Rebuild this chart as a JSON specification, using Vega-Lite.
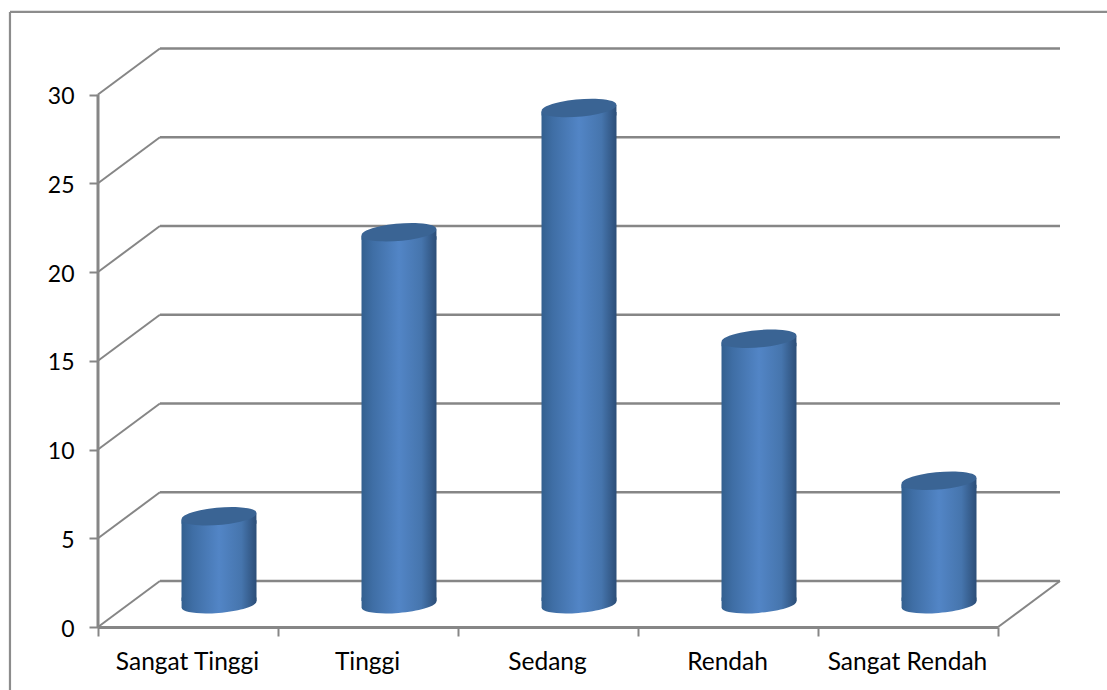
{
"$schema":"https://vega.github.io/schema/vega-lite/v6.json",
"width":962,"height":579,
"autosize":{"type":"none"},
"padding":{"left":98,"top":48,"right":47,"bottom":63},
"background":"white",
"config":{"view":{"stroke":null}},
"datasets":{
"bars":[{"kategori":"Sangat Tinggi","nilai":5},{"kategori":"Tinggi","nilai":21},{"kategori":"Sedang","nilai":28},{"kategori":"Rendah","nilai":15},{"kategori":"Sangat Rendah","nilai":7}],
"grid":[{"v":0},{"v":5},{"v":10},{"v":15},{"v":20},{"v":25},{"v":30}]
},
"resolve":{"scale":{"x":"independent"}},
"layer":[
{"layer":[
{"mark":{"type":"rule","color":"#8c8c8c","strokeWidth":2.2},"data":{"values":[{"a":-0.489,"b":5.606,"y":34.65,"y2":34.65},{"a":-0.489,"b":-0.489,"y":34.65,"y2":-3.6}]},
 "encoding":{"x":{"field":"a","type":"quantitative","axis":null,"scale":{"domain":[0,5.344],"nice":false,"zero":false}},"x2":{"field":"b"},"y":{"field":"y","type":"quantitative","scale":{"domain":[0,32.62],"nice":false}},"y2":{"field":"y2"}}},
{"mark":{"type":"rule","color":"#868686","strokeWidth":2.5,"yOffset":-46},"data":{"name":"grid"},
 "encoding":{"x":{"datum":0.344,"type":"quantitative"},"x2":{"datum":5.344},"y":{"field":"v","type":"quantitative"}}},
{"mark":{"type":"rule","color":"#868686","strokeWidth":2,"y2Offset":-46},"data":{"name":"grid"},
 "encoding":{"x":{"datum":0,"type":"quantitative"},"x2":{"datum":0.344},"y":{"field":"v","type":"quantitative"},"y2":{"field":"v"}}},
{"mark":{"type":"rule","color":"#868686","strokeWidth":2,"y2Offset":-46},"data":{"values":[{"v":0}]},
 "encoding":{"x":{"datum":5,"type":"quantitative"},"x2":{"datum":5.344},"y":{"field":"v","type":"quantitative"},"y2":{"field":"v"}}},
{"mark":{"type":"rule","color":"#868686","strokeWidth":3},"data":{"values":[{"a":0,"b":30}]},
 "encoding":{"x":{"datum":0,"type":"quantitative"},"y":{"field":"a","type":"quantitative"},"y2":{"field":"b"}}}
]},
{"data":{"name":"bars"},
 "encoding":{
  "x":{"field":"kategori","type":"nominal","sort":null,"scale":{"range":[0,900],"paddingInner":0,"paddingOuter":0},
   "axis":{"orient":"bottom","title":null,"labelAngle":0,"tickBand":"extent","domainColor":"#868686","domainWidth":3,"tickColor":"#868686","tickWidth":2,"tickSize":9,"labelFont":"Lato","labelFontSize":24.5,"labelColor":"#000000","labelPadding":14,"labelFontWeight":"normal","labelOffset":-1}},
  "y":{"field":"nilai","type":"quantitative",
   "axis":{"title":null,"values":[0,5,10,15,20,25,30],"domain":false,"grid":false,"tickColor":"#868686","tickWidth":2,"tickSize":9,"labelFont":"Lato","labelFontSize":23,"labelColor":"#000000","labelPadding":15,"labelOffset":2}}
 },
 "layer":[
 {"mark":{"type":"bar","width":75,"xOffset":31,"yOffset":-18,"y2Offset":-26,"fill":{"gradient":"linear","x1":0,"y1":0,"x2":1,"y2":0,"stops":[{"offset":0,"color":"#33608f"},{"offset":0.15,"color":"#3f6ea5"},{"offset":0.5,"color":"#5285c6"},{"offset":0.8,"color":"#4675ad"},{"offset":1,"color":"#2c4e78"}]}},
  "encoding":{"y2":{"datum":0}}},
 {"mark":{"type":"point","filled":true,"opacity":1,"xOffset":31,"yOffset":-22,"size":5625,"shape":"M-0.998,0.08 L0.998,-0.08 L0.998,0.2 L-0.998,0.2 Z","fill":{"gradient":"linear","x1":0,"y1":0,"x2":1,"y2":0,"stops":[{"offset":0,"color":"#33608f"},{"offset":0.15,"color":"#3f6ea5"},{"offset":0.5,"color":"#5285c6"},{"offset":0.8,"color":"#4675ad"},{"offset":1,"color":"#2c4e78"}]}}},
 {"mark":{"type":"point","filled":true,"opacity":1,"xOffset":31,"yOffset":-22,"size":5625,"fill":"#3a6494","shape":"M-0.995,0.08 A1,0.22 -5 1 1 0.995,-0.08 A1,0.22 -5 1 1 -0.995,0.08 Z"}},
 {"mark":{"type":"point","filled":true,"opacity":1,"xOffset":31,"yOffset":-22,"size":5625,"shape":"M-0.998,-0.2 L0.998,-0.2 L0.998,-0.08 L0.995,-0.08 A1,0.22 -5 0 1 -0.995,0.08 L-0.998,0.08 Z","fill":{"gradient":"linear","x1":0,"y1":0,"x2":1,"y2":0,"stops":[{"offset":0,"color":"#33608f"},{"offset":0.15,"color":"#3f6ea5"},{"offset":0.5,"color":"#5285c6"},{"offset":0.8,"color":"#4675ad"},{"offset":1,"color":"#2c4e78"}]}},
  "encoding":{"y":{"datum":0}}}
 ]}
]
}
